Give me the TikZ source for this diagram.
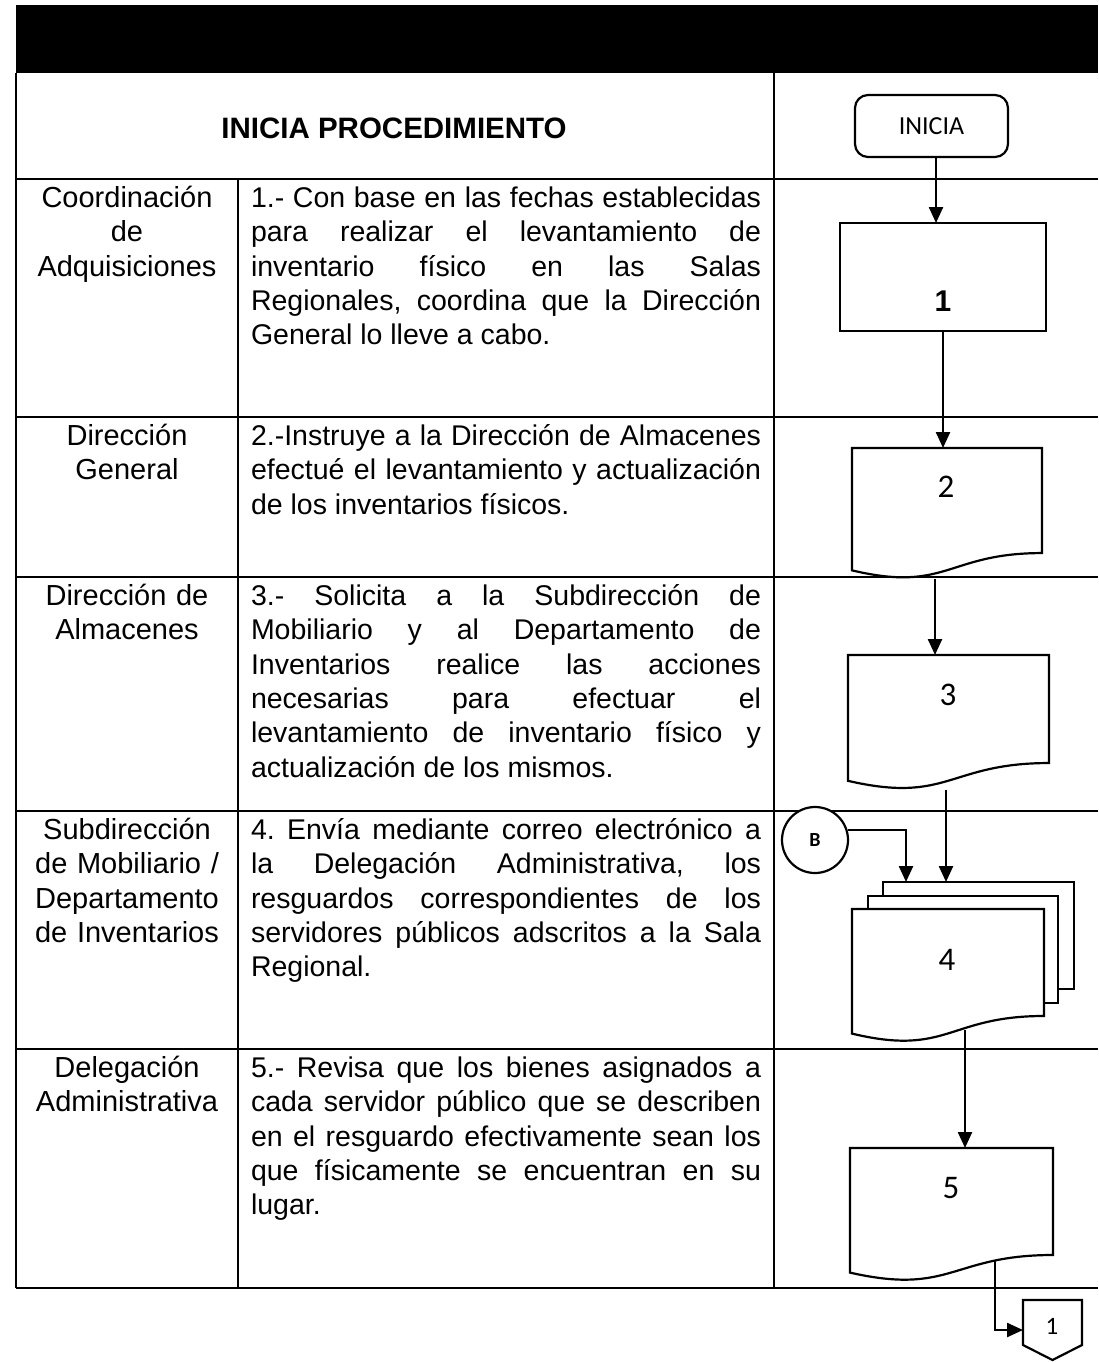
\documentclass[tikz,border=0pt]{standalone}
\usepackage{fontspec}
\setmainfont{Liberation Sans}
\newfontfamily\carlito{Carlito}
\usetikzlibrary{arrows.meta,calc}
\newcommand\fst{\rule{0pt}{28pt}}
\newcommand\docpath[1]{\draw[shp] (#1.north west) -- (#1.north east) -- ($(#1.north east)!0.802!(#1.south east)$) .. controls ($(#1.north)!0.802!(#1.south)$) and ($(#1.north)!1.107!(#1.south)$) .. ($(#1.north west)!0.934!(#1.south west)$) -- cycle;}
\begin{document}
\tolerance=10000 \hbadness=10000 \hyphenpenalty=10000 \exhyphenpenalty=10000 \frenchspacing
\begin{tikzpicture}[x=1pt,y=-1pt,
  tbl/.style={line width=1.6pt},
  shp/.style={line width=2.2pt, draw=black, fill=white},
  arr/.style={line width=2.4pt, -{Triangle[length=16pt,width=14pt]}},
  lab/.style={inner sep=0pt, text width=218pt, align=center, anchor=north, font=\fontsize{29}{34.4}\selectfont},
  txt/.style={inner sep=0pt, text width=510pt, align=justify, anchor=north, font=\fontsize{28.5}{34.4}\selectfont},
  box/.style={inner sep=0pt, outer sep=0pt, anchor=north west},
  numf/.style={inner sep=0pt, font=\carlito\fontsize{33}{35}\selectfont},
]
\useasboundingbox (0,0) rectangle (1098,1362);
\fill[white] (0,0) rectangle (1098,1362);
\fill[black] (16,5) rectangle (1098,73);
% table
\draw[tbl] (16,73) -- (16,1288);
\draw[tbl] (774,73) -- (774,1288);
\draw[tbl] (238,179) -- (238,1288);
\foreach \yy in {179,417,577,811,1049,1288} {\draw[tbl] (16,\yy) -- (1098,\yy);}
% header
\node[inner sep=0pt, font=\bfseries\fontsize{29.5}{34}\selectfont] (hdr) at (394,128) {INICIA PROCEDIMIENTO};
% column 1 labels
\node[lab] (l1) at (127,179) {\fst Coordinación\\de\\Adquisiciones};
\node[lab] (l2) at (127,417) {\fst Dirección\\General};
\node[lab] (l3) at (127,577) {\fst Dirección de\\Almacenes};
\node[lab] (l4) at (127,811) {\fst Subdirección\\de Mobiliario /\\Departamento\\de Inventarios};
\node[lab] (l5) at (127,1049) {\fst Delegación\\Administrativa};
% column 2 texts
\node[txt] (t1) at (506,179) {\fst 1.- Con base en las fechas establecidas\linebreak para realizar el levantamiento de\linebreak inventario físico en las Salas\linebreak Regionales, coordina que la Dirección\linebreak General lo lleve a cabo.};
\node[txt] (t2) at (506,417) {\fst 2.-Instruye a la Dirección de Almacenes\linebreak efectué el levantamiento y actualización\linebreak de los inventarios físicos.};
\node[txt] (t3) at (506,577) {\fst 3.- Solicita a la Subdirección de\linebreak Mobiliario y al Departamento de\linebreak Inventarios realice las acciones\linebreak necesarias para efectuar el\linebreak levantamiento de inventario físico y\linebreak actualización de los mismos.};
\node[txt] (t4) at (506,811) {\fst 4. Envía mediante correo electrónico a\linebreak la Delegación Administrativa, los\linebreak resguardos correspondientes de los\linebreak servidores públicos adscritos a la Sala\linebreak Regional.};
\node[txt] (t5) at (506,1049) {\fst 5.- Revisa que los bienes asignados a\linebreak cada servidor público que se describen\linebreak en el resguardo efectivamente sean los\linebreak que físicamente se encuentran en su\linebreak lugar.};
% flow shapes
\node[shp, rounded corners=13pt, minimum width=153pt, minimum height=62pt, inner sep=0pt, font=\carlito\fontsize{26}{28}\selectfont] (ini) at (931.5,126) {INICIA};
\node[shp, box, minimum width=206pt, minimum height=108pt] (b1) at (840,223) {};
\node[inner sep=0pt, font=\bfseries\fontsize{30}{32}\selectfont] (n1) at (943,301) {1};
\node[box, minimum width=190pt, minimum height=131pt] (b2) at (852,448) {};
\docpath{b2}
\node[numf] (n2) at (946,487) {2};
\node[box, minimum width=201pt, minimum height=134.7pt] (b3) at (848,655) {};
\docpath{b3}
\node[numf] (n3) at (948,695) {3};
\node[shp, box, minimum width=191pt, minimum height=107pt] (b4c) at (883,882) {};
\node[shp, box, minimum width=190pt, minimum height=107pt] (b4b) at (868,896) {};
\node[box, minimum width=192pt, minimum height=133.4pt] (b4) at (852,909) {};
\docpath{b4}
\node[numf] (n4) at (947,960) {4};
\node[box, minimum width=203pt, minimum height=133.4pt] (b5) at (850,1148) {};
\docpath{b5}
\node[numf] (n5) at (951,1188) {5};
\node[shp, circle, minimum size=66pt, inner sep=0pt, font=\carlito\bfseries\fontsize{20}{22}\selectfont] (B) at (815,840) {B};
\node[box, minimum width=59pt, minimum height=60pt] (op) at (1023,1300) {};
\draw[shp] (op.north west) -- (op.north east) -- ($(op.north east)!0.75!(op.south east)$) -- (op.south) -- ($(op.north west)!0.75!(op.south west)$) -- cycle;
\node[inner sep=0pt, font=\carlito\fontsize{25}{27}\selectfont] (n6) at (1052,1326) {1};
% connectors
\coordinate (a0) at ($(ini.south)+(4.5,0)$);
\draw[arr] (a0) -- (a0 |- b1.north);
\draw[arr] (b1.south) -- (b1.south |- b2.north);
\coordinate (a2) at ($(b2.south)+(-12,0)$);
\draw[arr] (a2) -- (a2 |- b3.north);
\coordinate (a3) at ($(b3.south)+(-2.5,0)$);
\draw[arr] (a3) -- (a3 |- b4c.north);
\coordinate (aB) at ($(b4c.north west)+(23,0)$);
\draw[arr] (B.17) -| (aB);
\coordinate (a4) at ($(b4.south)+(17,-12)$);
\draw[arr] (a4) -- (a4 |- b5.north);
\coordinate (a5) at ($(b5.south)+(43.5,-20)$);
\draw[arr] (a5) |- (op.west);
\end{tikzpicture}
\end{document}
